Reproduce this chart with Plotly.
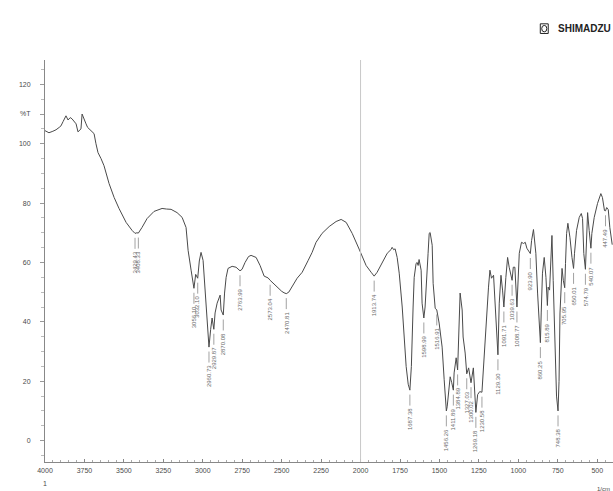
import plotly.graph_objects as go

# Transmittance spectrum (wavenumber in 1/cm, %T)
wavenumber = [
    4000, 3975, 3950, 3930, 3910, 3899, 3885, 3867, 3854, 3840, 3829, 3815, 3803,
    3791, 3780, 3772, 3765, 3752, 3740, 3730, 3721, 3705, 3689, 3677, 3670, 3664,
    3645, 3626, 3594, 3562, 3531, 3486, 3448, 3429.43, 3418, 3408.33, 3385, 3353,
    3309, 3258, 3230, 3201, 3163, 3131, 3106, 3093, 3074, 3056.10, 3045, 3032.10,
    3022, 3011, 2998, 2985, 2973, 2960.73, 2950, 2941, 2929.87, 2922, 2909, 2890,
    2884, 2870.08, 2862, 2852, 2840, 2814, 2789, 2775, 2763.99, 2751, 2732, 2710,
    2694, 2662, 2637, 2611, 2586, 2573.04, 2555, 2529, 2500, 2485, 2470.81, 2455,
    2434, 2402, 2370, 2345, 2332, 2307, 2282, 2244, 2199, 2155, 2123, 2091, 2053,
    2009, 1985, 1965, 1933, 1913.74, 1895, 1863, 1831, 1806, 1800, 1790, 1781,
    1768, 1755, 1736, 1724, 1711, 1698, 1687.38, 1678, 1673, 1667, 1660, 1648,
    1641, 1635, 1629, 1616, 1610, 1598.99, 1591, 1578, 1572, 1565, 1559, 1546,
    1540, 1527, 1516.91, 1502, 1483, 1470, 1456.26, 1451, 1438, 1432, 1422,
    1411.89, 1407, 1394, 1384.89, 1378, 1369, 1356, 1350, 1337, 1327.03, 1315,
    1300.02, 1285, 1269.18, 1258, 1245, 1230.58, 1216, 1202, 1189, 1180, 1170,
    1157, 1147, 1129.30, 1121, 1110, 1100, 1091.71, 1079, 1068, 1058, 1039.63,
    1032, 1022, 1008.77, 1001, 994, 980, 967, 956, 946, 923.90, 916, 904, 889,
    878, 860.25, 855, 847, 836, 825, 815.89, 811, 802, 793, 787, 779, 768, 758,
    748.38, 742, 736, 729, 723, 715, 705.95, 701, 694, 686, 673, 660, 650.01, 644,
    631, 614, 601, 593, 585, 574.79, 570, 561, 551, 540.07, 534, 519, 498, 477,
    467, 454, 447.49, 440, 430, 420, 405,
]
transmittance = [
    104.4, 103.7, 104.2, 104.7, 105.5, 106.0, 107.5, 109.4, 108.0, 108.8, 108.4, 107.5, 106.7,
    104.0, 104.8, 105.0, 110.0, 108.0, 106.7, 105.5, 105.0, 104.2, 103.4, 100.0, 98.5, 97.0,
    95.0, 92.6, 86.6, 81.9, 78.2, 73.5, 70.8, 69.8, 70.0, 69.9, 71.8, 74.8,
    77.2, 78.2, 78.0, 77.9, 76.8, 75.2, 71.8, 64.1, 57.4, 51.3, 56.0, 54.7,
    60.5, 63.4, 60.7, 50.7, 38.0, 31.5, 37.5, 41.3, 37.5, 43.0, 46.3, 49.0,
    44.0, 42.3, 49.7, 55.0, 58.0, 58.7, 58.4, 57.8, 57.2, 57.7, 60.0, 62.0,
    62.4, 61.7, 59.0, 55.4, 54.8, 54.0, 53.0, 51.7, 50.3, 49.8, 49.5, 50.0,
    51.7, 54.7, 56.7, 59.7, 60.7, 63.4, 66.8, 69.8, 72.1, 73.8, 74.5, 73.5, 69.8,
    64.5, 61.5, 59.0, 56.7, 55.4, 56.7, 60.0, 63.1, 64.4, 65.1, 64.3, 64.6,
    61.7, 56.4, 45.0, 34.0, 25.0, 19.0, 17.0, 25.0, 31.5, 45.0, 55.0, 59.7,
    60.0, 59.0, 61.0, 57.4, 46.3, 41.3, 45.0, 60.7, 63.1, 69.8, 70.1, 65.8,
    53.0, 44.6, 44.0, 39.6, 31.5, 20.5, 10.0, 11.4, 17.1, 21.5, 19.5,
    17.0, 22.8, 27.9, 23.8, 33.0, 49.7, 44.0, 34.9, 29.5, 22.5, 24.5,
    19.5, 24.5, 9.5, 15.5, 16.5, 16.3, 29.5, 40.6, 51.7, 57.4, 54.7,
    55.7, 47.3, 28.9, 46.3, 55.7, 50.7, 45.0, 55.0, 61.7, 58.4, 54.0,
    58.4, 58.4, 45.0, 55.0, 63.1, 66.8, 66.4, 66.8, 64.8, 63.0, 67.4, 71.1, 63.1,
    49.7, 33.0, 43.0, 56.4, 61.7, 55.0, 45.5, 51.7, 50.7, 60.7, 69.1, 54.0, 31.5, 15.0,
    10.0, 20.0, 43.0, 54.0, 58.0, 54.0, 51.5, 59.7, 69.8, 73.2, 68.5, 61.7, 58.0, 63.1,
    70.8, 75.2, 76.5, 74.8, 63.0, 57.7, 67.4, 76.8, 70.8, 64.8, 69.8, 75.2, 79.9, 83.2,
    81.9, 77.5, 77.4, 78.5, 77.8, 71.8, 66.0,
]

# Peaks picked by the instrument software
peak_wn = [
    3429.43, 3408.33, 3056.10, 3032.10, 2960.73, 2929.87, 2870.08, 2763.99,
    2573.04, 2470.81, 1913.74, 1687.38, 1598.99, 1516.91, 1456.26, 1411.89,
    1384.89, 1327.03, 1300.02, 1269.18, 1230.58, 1129.30, 1091.71, 1039.63,
    1008.77, 923.90, 860.25, 815.89, 748.38, 705.95, 650.01, 574.79, 540.07,
    447.49,
]

x_ticks = [4000, 3750, 3500, 3250, 3000, 2750, 2500, 2250, 2000, 1750, 1500, 1250, 1000, 750, 500]
y_ticks = [0, 20, 40, 60, 80, 100, 110, 120]
y_tick_text = ["0", "20", "40", "60", "80", "100", "%T", "120"]

ink = "#4a4a4a"
label_ink = "#6a6a6a"

peak_T = [transmittance[wavenumber.index(w)] for w in peak_wn]

fig = go.Figure()

fig.add_trace(go.Scatter(
    x=wavenumber, y=transmittance, mode="lines",
    line=dict(color=ink, width=1), hoverinfo="skip", showlegend=False,
))

# leader lines hanging below each picked peak
lx, ly = [], []
for w, t in zip(peak_wn, peak_T):
    lx += [w, w, None]
    ly += [t - 1.5, t - 5.2, None]
fig.add_trace(go.Scatter(
    x=lx, y=ly, mode="lines", line=dict(color="#8a8a8a", width=0.8),
    hoverinfo="skip", showlegend=False,
))

for w, t in zip(peak_wn, peak_T):
    fig.add_annotation(
        x=w, y=t - 5.4, text=f"{w:.2f}", showarrow=False, textangle=-90,
        xanchor="center", yanchor="top",
        font=dict(family="Liberation Sans", size=6, color=label_ink),
    )

# grating-change marker
fig.add_vline(x=2000, line=dict(color="#c8c8c8", width=1))

# scale / unit notes
fig.add_annotation(x=4000, y=-0.04, xref="x", yref="paper", text="1", showarrow=False,
                   yanchor="top", font=dict(family="Liberation Sans", size=7, color=ink))
fig.add_annotation(x=500, y=-0.055, xref="x", yref="paper", text="1/cm", showarrow=False,
                   xanchor="left", yanchor="top", xshift=-2,
                   font=dict(family="Liberation Sans", size=6, color=ink))

# maker logo
fig.add_annotation(x=1.0, y=1.078, xref="paper", yref="paper", text="<b>SHIMADZU</b>",
                   showarrow=False, xanchor="right", yanchor="middle",
                   font=dict(family="Liberation Sans", size=10, color="#222222"))
fig.add_shape(type="rect", xref="paper", yref="paper", x0=0.872, x1=0.886, y0=1.066, y1=1.09,
              line=dict(color="#222222", width=1), fillcolor="white")
fig.add_shape(type="circle", xref="paper", yref="paper", x0=0.8745, x1=0.8835, y0=1.070, y1=1.086,
              line=dict(color="#222222", width=1))

fig.update_xaxes(
    range=[4000, 400], tickvals=x_ticks, ticktext=[str(v) for v in x_ticks],
    ticks="inside", ticklen=3, tickcolor="#888888",
    minor=dict(dtick=50, tick0=0, ticks="inside", ticklen=2, tickcolor="#aaaaaa"),
    showline=True, linecolor="#888888", linewidth=1, showgrid=False, zeroline=False,
    tickfont=dict(family="Liberation Sans", size=7, color=ink), ticklabelstandoff=2,
)
fig.update_yaxes(
    range=[-7.2, 128.2], tickvals=y_ticks, ticktext=y_tick_text,
    ticks="outside", ticklen=4, tickcolor="#999999",
    minor=dict(dtick=5, tick0=0, ticks="outside", ticklen=3, tickcolor="#bbbbbb"),
    showline=True, linecolor="#888888", linewidth=1, showgrid=False, zeroline=False,
    tickfont=dict(family="Liberation Sans", size=7, color=ink), ticklabelstandoff=8,
)

fig.update_layout(
    width=613, height=491, margin=dict(l=45, r=0, t=60, b=29),
    paper_bgcolor="white", plot_bgcolor="white", showlegend=False,
)

fig.write_html("out.html")
